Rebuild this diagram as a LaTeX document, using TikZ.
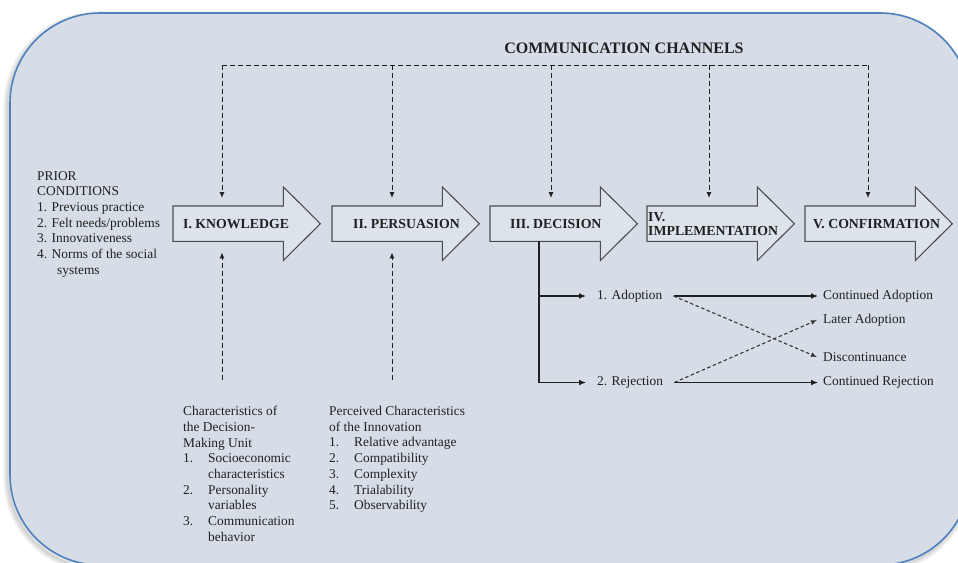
\documentclass[tikz,border=0pt]{standalone}
\usepackage{fontspec}
\setmainfont{Liberation Serif}
\usetikzlibrary{arrows.meta}

\definecolor{panel}{RGB}{214,221,230}
\definecolor{panelrim}{RGB}{79,129,189}
\definecolor{ink}{RGB}{32,32,32}
\definecolor{stagefill}{RGB}{221,227,235}

\tikzset{
  shaft/.style={rectangle, minimum width=110pt, minimum height=35pt, inner sep=0pt, anchor=north west},
  stageoutline/.style={draw=ink!80, line width=1.1pt, fill=stagefill, line join=miter},
  stagelabel/.style={font=\fontsize{13.8}{14}\selectfont\bfseries, text=ink, anchor=west, inner sep=0pt, align=left},
  chan/.style={draw=ink, line width=1pt, dash pattern=on 5pt off 3pt},
  chanarrow/.style={chan, -{Latex[length=6pt,width=5pt]}},
  flow/.style={draw=ink, line width=1.3pt},
  flowarrow/.style={flow, -{Latex[length=7pt,width=6pt]}},
  crossarrow/.style={draw=ink!90, line width=1.1pt, dash pattern=on 3.5pt off 2.5pt, -{Latex[length=6pt,width=5pt]}},
  body/.style={font=\fontsize{13.4}{15.7}\selectfont, text=ink, align=left, inner sep=0pt, anchor=north west},
  outcome/.style={font=\fontsize{13.4}{15.7}\selectfont, text=ink, inner ysep=0pt, anchor=west},
}

% block arrow drawn around a shaft node
\newcommand\stageshape[1]{%
  \draw[stageoutline] (#1.south west) -- (#1.north west) -- (#1.north east)
    -- ([yshift=19pt]#1.north east) -- ([xshift=37pt]#1.east)
    -- ([yshift=-19pt]#1.south east) -- (#1.south east) -- cycle;}

\begin{document}
\begin{tikzpicture}[x=1pt, y=-1pt]
  \useasboundingbox (0,0) rectangle (958,562);
  \clip (0,0) rectangle (958,562);

  % panel with a soft shadow
  \foreach \w in {2,4,6,8,10}
    \draw[black, opacity=0.035, line width=\w pt, rounded corners=90pt]
      (8,16) rectangle (968,568);
  \draw[fill=panel, draw=panelrim, line width=1.6pt, rounded corners=90pt]
    (10,13) rectangle (970,565);

  % stage shafts
  \node[shaft] (know) at (173,206) {};
  \node[shaft] (pers) at (332,206) {};
  \node[shaft] (deci) at (490,206) {};
  \node[shaft] (impl) at (647,206) {};
  \node[shaft] (conf) at (805,206) {};
  \stageshape{know}
  \stageshape{pers}
  \stageshape{deci}
  \stageshape{impl}
  \stageshape{conf}

  \node[stagelabel] (knowt) at ([xshift=10pt]know.west) {I. KNOWLEDGE};
  \node[stagelabel] (perst) at ([xshift=21pt]pers.west) {II. PERSUASION};
  \node[stagelabel] (decit) at ([xshift=20pt]deci.west) {III. DECISION};
  \node[stagelabel] (implt) at ([xshift=1pt]impl.west) {IV.\\IMPLEMENTATION};
  \node[stagelabel] (conft) at ([xshift=8pt]conf.west) {V. CONFIRMATION};

  % communication channels
  \node[font=\fontsize{16}{18}\selectfont\bfseries, text=ink, inner sep=0pt] (cc) at (624,48) {COMMUNICATION CHANNELS};
  \coordinate (t1) at (222,65);
  \coordinate (t2) at (392,65);
  \coordinate (t3) at (551,65);
  \coordinate (t4) at (709,65);
  \coordinate (t5) at (868,65);
  \draw[chan] (t1) -- (t5);
  \foreach \t/\s in {t1/know, t2/pers, t3/deci, t4/impl, t5/conf}
    \draw[chanarrow, shorten >=8pt] (\t) -- (\t |- \s.north);

  % prior conditions
  \node[body] (prior) at (37,171) {PRIOR\\CONDITIONS\\1. Previous practice\\2. Felt needs/problems\\3. Innovativeness\\4. Norms of the social\\\hspace*{20pt}systems};

  % influences from below
  \coordinate (b1) at (222,380);
  \coordinate (b2) at (392,380);
  \draw[chanarrow, shorten >=11pt] (b1) -- (b1 |- know.south);
  \draw[chanarrow, shorten >=11pt] (b2) -- (b2 |- pers.south);

  \node[body] (unit) at (183,406) {Characteristics of\\the Decision-\\Making Unit\\%
    \makebox[25pt][l]{1.}Socioeconomic\\\hspace*{25pt}characteristics\\%
    \makebox[25pt][l]{2.}Personality\\\hspace*{25pt}variables\\%
    \makebox[25pt][l]{3.}Communication\\\hspace*{25pt}behavior};
  \node[body] (innov) at (329,406) {Perceived Characteristics\\of the Innovation\\%
    \makebox[25pt][l]{1.}Relative advantage\\%
    \makebox[25pt][l]{2.}Compatibility\\%
    \makebox[25pt][l]{3.}Complexity\\%
    \makebox[25pt][l]{4.}Trialability\\%
    \makebox[25pt][l]{5.}Observability};

  % decision outcomes
  \node[outcome, inner xsep=11pt] (adopt) at (586,296) {1. Adoption};
  \node[outcome, inner xsep=11pt] (reject) at (586,382.5) {2. Rejection};
  \coordinate (ya) at (539,296);
  \coordinate (yr) at (539,382.5);
  \draw[flow] (ya |- deci.south) -- (yr);
  \draw[flowarrow] (ya) -- (adopt.west);
  \draw[flowarrow] (yr) -- (reject.west);

  \node[outcome, inner xsep=5pt] (contA) at (818,296) {Continued Adoption};
  \node[outcome, inner xsep=6pt] (later) at (817,320) {Later Adoption};
  \node[outcome, inner xsep=6pt] (disc) at (817,357) {Discontinuance};
  \node[outcome, inner xsep=5pt] (contR) at (818,382.5) {Continued Rejection};

  \draw[flowarrow] (adopt.east) -- (contA.west);
  \draw[flowarrow] (reject.east) -- (contR.west);
  \draw[crossarrow] (adopt.east) -- (disc.west);
  \draw[crossarrow] (reject.east) -- (later.west);
\end{tikzpicture}
\end{document}
